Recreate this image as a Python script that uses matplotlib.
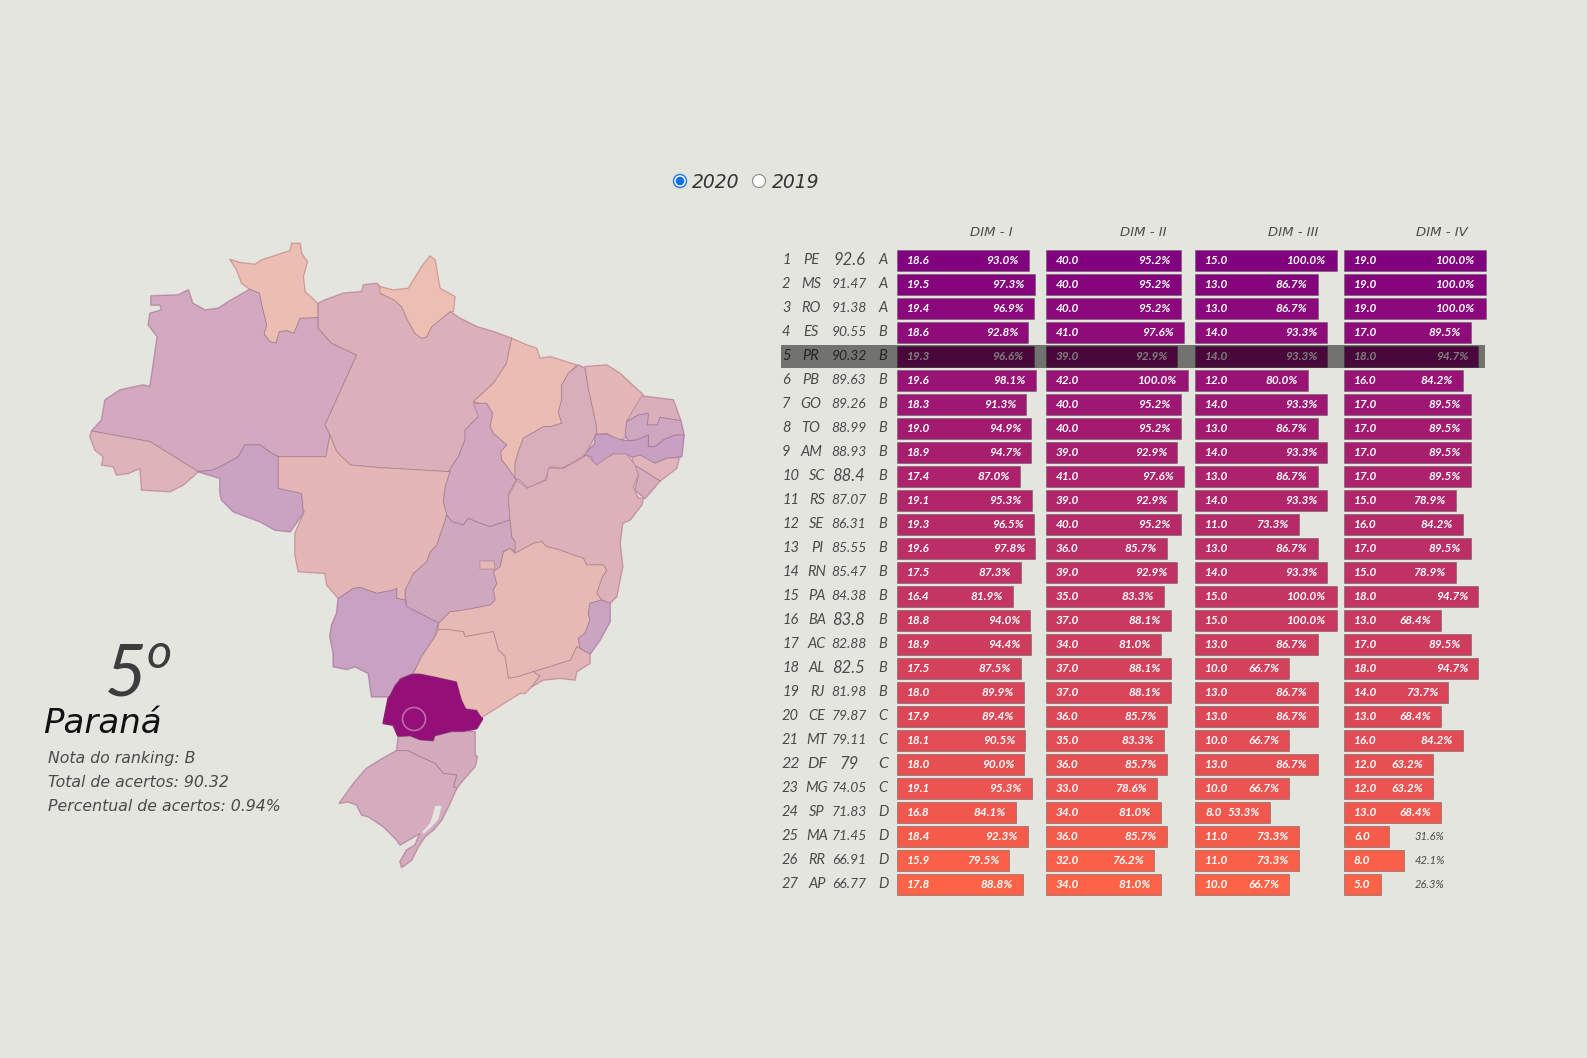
import matplotlib
matplotlib.use("Agg")
import matplotlib.pyplot as plt
from matplotlib.patches import Polygon, Circle, Rectangle
from matplotlib.colors import to_rgb

plt.rcParams['font.family'] = ['Lato', 'DejaVu Sans']
WIDE = ['DejaVu Sans']

ufs = ["PE","MS","RO","ES","PR","PB","GO","TO","AM","SC","RS","SE","PI","RN","PA","BA","AC","AL","RJ","CE","MT","DF","MG","SP","MA","RR","AP"]
totals = ["92.6","91.47","91.38","90.55","90.32","89.63","89.26","88.99","88.93","88.4","87.07","86.31","85.55","85.47","84.38","83.8","82.88","82.5","81.98","79.87","79.11","79","74.05","71.83","71.45","66.91","66.77"]
grades = list("AAABBBBBBBBBBBBBBBBCCCCDDDD")
dim1_val = [18.6,19.5,19.4,18.6,19.3,19.6,18.3,19.0,18.9,17.4,19.1,19.3,19.6,17.5,16.4,18.8,18.9,17.5,18.0,17.9,18.1,18.0,19.1,16.8,18.4,15.9,17.8]
dim1_pct = [93.0,97.3,96.9,92.8,96.6,98.1,91.3,94.9,94.7,87.0,95.3,96.5,97.8,87.3,81.9,94.0,94.4,87.5,89.9,89.4,90.5,90.0,95.3,84.1,92.3,79.5,88.8]
dim2_val = [40.0,40.0,40.0,41.0,39.0,42.0,40.0,40.0,39.0,41.0,39.0,40.0,36.0,39.0,35.0,37.0,34.0,37.0,37.0,36.0,35.0,36.0,33.0,34.0,36.0,32.0,34.0]
dim2_pct = [95.2,95.2,95.2,97.6,92.9,100.0,95.2,95.2,92.9,97.6,92.9,95.2,85.7,92.9,83.3,88.1,81.0,88.1,88.1,85.7,83.3,85.7,78.6,81.0,85.7,76.2,81.0]
dim3_val = [15.0,13.0,13.0,14.0,14.0,12.0,14.0,13.0,14.0,13.0,14.0,11.0,13.0,14.0,15.0,15.0,13.0,10.0,13.0,13.0,10.0,13.0,10.0,8.0,11.0,11.0,10.0]
dim3_pct = [100.0,86.7,86.7,93.3,93.3,80.0,93.3,86.7,93.3,86.7,93.3,73.3,86.7,93.3,100.0,100.0,86.7,66.7,86.7,86.7,66.7,86.7,66.7,53.3,73.3,73.3,66.7]
dim4_val = [19.0,19.0,19.0,17.0,18.0,16.0,17.0,17.0,17.0,17.0,15.0,16.0,17.0,15.0,18.0,13.0,17.0,18.0,14.0,13.0,16.0,12.0,12.0,13.0,6.0,8.0,5.0]
dim4_pct = [100.0,100.0,100.0,89.5,94.7,84.2,89.5,89.5,89.5,89.5,78.9,84.2,89.5,78.9,94.7,68.4,89.5,94.7,73.7,68.4,84.2,63.2,63.2,68.4,31.6,42.1,26.3]
dim_names = ["DIM - I","DIM - II","DIM - III","DIM - IV"]
years = ["2020","2019"]
info_lines = ["Nota do ranking: B","Total de acertos: 90.32","Percentual de acertos: 0.94%"]

A=(70,230); B=(380,230); C=(200,500); D=(400,430); E=(560,380); F=(320,660)
def z(o, pts):
    return [(o[0]+p[0]/3, o[1]+p[1]/3) for p in pts]

states = {
"RR": z(A,[(480,88),(510,98),(555,103),(575,90),(620,75),(660,62),(665,40),(690,40),(695,70),(712,95),(700,140),(705,185),(743,220),(743,263),(690,265),(672,310),(650,302),(628,305),(618,340),(600,335),(582,312),(590,285),(575,225),(568,190),(540,178),(515,160),(500,120)]),
"AM": z(A,[(243,198),(325,195),(355,180),(368,220),(405,240),(445,235),(475,215),(540,178),(568,190),(575,225),(590,285),(582,312),(600,335),(618,340),(628,305),(650,302),(672,310),(690,265),(743,263),(745,295),(785,340),(860,375),(765,585),(780,615),(768,680),(625,680),(605,670),(570,645),(525,645),(505,680),(460,705),(430,720),(385,725),(240,635),(65,603),(95,570),(105,510),(150,480),(220,465),(240,470),(262,320),(235,285),(240,250),(275,240),(270,225),(243,225)]),
"AC": z(A,[(65,603),(240,635),(385,725),(340,765),(300,785),(215,780),(210,715),(175,730),(140,735),(130,710),(95,705),(100,680),(75,660),(60,620)]),
"RO": z(A,[(385,725),(430,720),(460,705),(505,680),(525,645),(570,645),(605,670),(625,680),(625,775),(695,790),(700,840)])+z(C,[(313,35),(270,95),(225,90),(180,65),(100,35),(65,0)])+z(A,[(450,790),(450,745)]),
"PA": z(A,[(745,295),(745,220),(765,210),(820,190),(875,185),(880,165),(920,160),(935,175)])+z(B,[(0,190),(40,208),(65,230),(80,265),(105,310),(125,325),(140,320),(155,290),(210,245),(240,265),(290,290),(340,305),(395,325),(380,400),(340,460),(280,515),(300,520),(295,560),(255,600),(255,630),(235,680),(205,725),(0,713)])+z(A,[(840,705),(800,665),(780,615),(765,585),(860,375),(785,340)]),
"AP": z(B,[(0,170),(40,180),(85,175),(125,110),(150,78),(165,90),(180,175),(225,200),(220,245),(210,245),(155,290),(140,320),(125,325),(105,310),(80,265),(65,230),(40,208),(0,190)]),
"MA": z(B,[(395,325),(440,345),(470,355),(480,385),(510,380),(590,405),(565,430),(545,465),(545,510),(535,545),(545,580),(510,590),(490,590),(430,625),(415,665),(405,700),(405,745),(385,715),(365,690),(362,665),(380,645),(340,610),(330,590),(338,550),(320,520),(300,520),(280,515),(340,460),(380,400)]),
"TO": z(B,[(280,520),(300,520),(320,520),(338,550),(330,590),(340,610),(380,645),(362,665),(365,690),(385,715),(405,745)])+z(D,[(350,150),(325,190),(330,270),(270,290),(240,280),(205,265),(190,285),(155,275),(140,255),(130,215),(135,170),(150,125)])+z(B,[(205,725),(235,680),(255,630),(255,600),(295,560)]),
"PI": z(B,[(595,405),(615,415),(625,475),(650,590),(650,610),(615,675),(575,700),(545,715),(510,710),(495,750),(445,775),(420,750),(405,745),(405,700),(415,665),(430,625),(490,590),(510,590),(545,580),(535,545),(545,510),(545,465),(565,430)]),
"CE": z(B,[(615,410),(680,405),(720,430),(790,495),(765,540),(740,575),(735,625),(715,630),(680,610),(650,612),(650,590),(625,475)]),
"RN": z(E,[(245,48),(340,60),(362,122),(300,112),(292,135),(262,135),(265,100),(235,105),(200,125),(222,85)]),
"PB": z(E,[(200,125),(235,105),(265,100),(262,135),(292,135),(300,112),(362,122),(372,165),(345,165),(310,180),(285,200),(265,200),(265,165),(230,180),(205,182),(195,165)]),
"PE": z(E,[(105,165),(140,162),(170,175),(195,182),(205,182),(230,180),(265,165),(265,200),(285,200),(310,180),(345,165),(372,165),(365,230),(320,235),(285,250),(240,225),(218,232),(205,225),(160,222),(125,255),(100,258),(95,230),(72,225),(105,190)]),
"AL": z(E,[(358,233),(350,265),(300,303),(240,265),(220,255),(218,232),(240,225),(285,250),(320,235)]),
"SE": z(E,[(220,255),(240,265),(300,303),(255,355),(225,330),(235,285)]),
"BA": z(D,[(350,150),(380,175),(440,150),(445,115),(490,115),(545,85),(560,75),(590,105),(610,90),(640,72),(680,72),(705,105),(715,135),(700,170),(715,205),(730,205),(725,225),(690,270),(668,280),(660,340),(668,410),(650,500),(630,520),(605,510),(590,490),(605,445),(620,420),(610,405),(560,405),(550,385),(520,375),(480,360),(440,350),(425,335),(400,340),(345,370),(345,335),(335,320),(330,270),(325,200)]),
"MG": z(D,[(345,370),(400,340),(425,335),(440,350),(480,360),(520,375),(550,385),(560,405),(610,405),(620,420),(605,445),(590,490),(605,510),(570,520),(565,550),(570,570),(555,610),(535,625),(540,655),(530,650),(512,690),(450,710),(400,725),(355,740),(325,745),(315,680),(295,660),(280,605),(195,620),(190,605),(135,598),(115,600),(115,580),(150,545),(190,540),(270,525),(285,510),(280,480),(290,460),(280,425),(300,410),(310,365),(330,355)]),
"GO": z(D,[(140,255),(155,275),(190,285),(205,265),(240,280),(270,290),(330,270),(335,320),(345,335),(345,365),(330,355),(310,365),(300,410),(280,425),(290,460),(280,480),(285,510),(270,525),(190,540),(150,545),(115,580),(50,545),(20,535),(15,480),(40,430),(80,395),(90,365),(110,345),(125,300)]),
"MT": z(A,[(625,680),(768,680),(780,615),(800,665),(840,705)])+z(B,[(0,713),(205,725)])+z(D,[(150,125),(135,170),(130,215),(140,255),(125,300),(110,345),(90,365),(80,395),(40,430),(15,480)])+z(C,[(615,300),(590,295),(590,265),(580,270),(530,280),(480,262),(460,265),(415,295),(380,255),(375,220),(295,215),(285,165),(285,100),(313,35)])+z(A,[(700,840),(695,790),(625,775)]),
"MS": z(C,[(415,295),(460,265),(480,262),(530,280),(580,270),(590,265),(590,295),(615,300),(620,320),(715,368),(705,410),(665,470),(640,520),(600,535),(570,590),(515,590),(505,520),(465,500),(440,508),(400,500),(400,460),(390,410),(395,375),(410,340)]),
"SP": z(D,[(115,600),(135,598),(190,605),(195,620),(280,605),(295,660),(315,680),(325,745),(355,740),(400,725),(420,738),(395,770),(375,790),(360,790),(280,840)])+z(C,[(845,652),(825,630),(795,625),(780,590),(765,545),(700,530),(660,522),(640,520),(665,470),(705,410)]),
"RJ": z(D,[(530,650),(540,655),(570,672),(570,700),(530,725),(525,750),(480,745),(430,750),(395,770),(420,738),(400,725),(450,710),(512,690)]),
"ES": z(D,[(605,510),(630,520),(630,575),(600,630),(570,672),(540,655),(535,625),(555,610),(570,570),(565,550),(570,520)]),
"PR": z(F,[(240,60),(270,45),(300,42),(340,50),(410,65),(425,120),(440,150),(470,150),(487,177),(470,205),(430,215),(395,215),(345,228),(340,243),(300,240),(270,228),(235,230),(220,195),(190,190),(205,115),(225,75)]),
"SC": z(F,[(235,230),(270,228),(300,240),(340,243),(345,228),(395,215),(430,215),(465,215),(465,285),(472,290),(465,320),(425,365),(410,385),(400,380),(410,345),(370,340),(345,310),(300,290),(265,272),(230,272)]),
"RS": z(F,[(230,272),(265,272),(300,290),(345,310),(370,340),(410,345),(400,380),(410,385),(385,440),(365,480),(340,510),(315,530),(295,560),(275,600),(245,622),(240,605),(260,570),(285,555),(300,520),(240,555),(230,540),(190,500),(145,470),(125,465),(110,435),(85,425),(58,430),(90,385),(105,365),(140,325),(180,300)]),
"DF": z(D,[(240,393),(282,393),(285,417),(240,417)]),
}
lagoon = z(F,[(345,438),(365,437),(355,478),(335,500),(310,522),(308,515),(330,490),(340,460)])

W, H = 1587, 1058
BG = "#e5e5e0"
PURPLE = (128,0,128); TOMATO = (255,99,71)
def rank_color(i):
    t = i/26
    return tuple((PURPLE[k]+(TOMATO[k]-PURPLE[k])*t)/255 for k in range(3))
def blend(rgb, a):
    bg = to_rgb(BG)
    return tuple(rgb[k]*a+bg[k]*(1-a) for k in range(3))

ROW_TOP = 248.4; ROW_H = 24.0
COL_X = [897, 1046, 1195, 1344]; COL_W = 141.5

fig = plt.figure(figsize=(W/100, H/100), dpi=100, facecolor=BG)
ax = fig.add_axes([0,0,1,1], zorder=1)
ax.set_xlim(0,W); ax.set_ylim(H,0); ax.axis("off")

selected = "PR"
for name, pts in states.items():
    face = blend(rank_color(ufs.index(name)), 1 if name == selected else 0.3)
    ax.add_patch(Polygon(pts, closed=True, facecolor=face, edgecolor=face, linewidth=1.4, joinstyle="round", zorder=1.5))
for name, pts in states.items():
    face = blend(rank_color(ufs.index(name)), 1 if name == selected else 0.3)
    ax.add_patch(Polygon(pts, closed=True, facecolor=face, edgecolor=(0.45,0.3,0.4,0.32), linewidth=0.7, joinstyle="round", zorder=3 if name==selected else 2))
ax.add_patch(Polygon(lagoon, closed=True, facecolor=BG, edgecolor="none", zorder=2.5))
ax.add_patch(Circle((414,719), 11.5, facecolor="none", edgecolor=(0.75,0.42,0.65), linewidth=1.2, zorder=4))

TXT = "#4a4a4a"
ax.text(105, 695, "5", fontsize=52, style="italic", color="#3d3d3d", va="baseline", ha="left")
ax.text(147, 668, "o", fontsize=35, style="italic", color="#3d3d3d", va="baseline", ha="left")
ax.text(43, 733, "Paraná", fontsize=24.5, style="italic", color="#111111", va="baseline", ha="left", family=WIDE)
for k, line in enumerate(info_lines):
    ax.text(48, 763+24*k, line, fontsize=11.3, style="italic", color=TXT, va="baseline", ha="left", family=WIDE)

ax.add_patch(Circle((680,181), 6.5, facecolor="white", edgecolor="#1a73e8", linewidth=1, zorder=4))
ax.add_patch(Circle((680,181), 4.3, facecolor="#0a6fe0", edgecolor="none", zorder=5))
ax.add_patch(Circle((759,181), 6.5, facecolor="white", edgecolor="#8a8a8a", linewidth=0.8, zorder=4))
for label, x in zip(years, (692, 772)):
    ax.text(x, 182, label, fontsize=13.5, style="italic", color="#333333", va="center", ha="left", family=WIDE)

for i in range(27):
    y = ROW_TOP + ROW_H*(i+0.5)
    big = i == 21
    fs = 10.5 if not big else 11.5
    ax.text(782, y, str(i+1), fontsize=fs, style="italic", color=TXT, ha="left", va="center")
    ax.text(811 if i < 9 else 817, y, ufs[i], fontsize=fs, style="italic", color=TXT, ha="center", va="center")
    tot_fs = 10 if len(totals[i]) > 4 else 12
    ax.text(849, y, totals[i], fontsize=tot_fs, style="italic", color=TXT, ha="center", va="center")
    ax.text(883, y, grades[i], fontsize=fs, style="italic", color=TXT, ha="center", va="center")

dims = [(dim1_val,dim1_pct),(dim2_val,dim2_pct),(dim3_val,dim3_pct),(dim4_val,dim4_pct)]
for c, (vals, pcts) in enumerate(dims):
    axc = fig.add_axes([COL_X[c]/W, 1-(ROW_TOP+27*ROW_H)/H, COL_W/W, 27*ROW_H/H], zorder=2)
    axc.patch.set_alpha(0)
    axc.set_xlim(0,100); axc.set_ylim(26.5,-0.5); axc.axis("off")
    cols = [rank_color(i) for i in range(27)]
    axc.barh(range(27), pcts, height=0.9, color=cols, edgecolor=(0.35,0.35,0.35,0.5), linewidth=0.7, clip_on=False)
    for i,(v,p) in enumerate(zip(vals,pcts)):
        axc.annotate(f"{v:.1f}", (0,i), xytext=(7.2,0), textcoords="offset points", fontsize=8.5, weight="bold", style="italic", color="white", ha="left", va="center", annotation_clip=False)
        if p < 50:
            axc.annotate(f"{p:.1f}%", (50,i), xytext=(0,0), textcoords="offset points", fontsize=8, style="italic", color=TXT, ha="left", va="center", annotation_clip=False)
        else:
            axc.annotate(f"{p:.1f}%", (p,i), xytext=(-7.2,0), textcoords="offset points", fontsize=8.5, weight="bold", style="italic", color="white", ha="right", va="center", annotation_clip=False)

for name, x in zip(dim_names, (991,1143,1293,1442)):
    ax.text(x, 233, name, fontsize=9.5, style="italic", color=TXT, ha="center", va="center", family=WIDE)

top = fig.add_axes([0,0,1,1], zorder=3)
top.set_xlim(0,W); top.set_ylim(H,0); top.axis("off"); top.patch.set_alpha(0)
sel = ufs.index(selected)
yc = ROW_TOP + ROW_H*(sel+0.5)
top.add_patch(Rectangle((781, yc-11.2), 704, 22.6, facecolor=(0,0,0,0.5), edgecolor="none"))

fig.savefig("out.png", dpi=100, facecolor=BG)
